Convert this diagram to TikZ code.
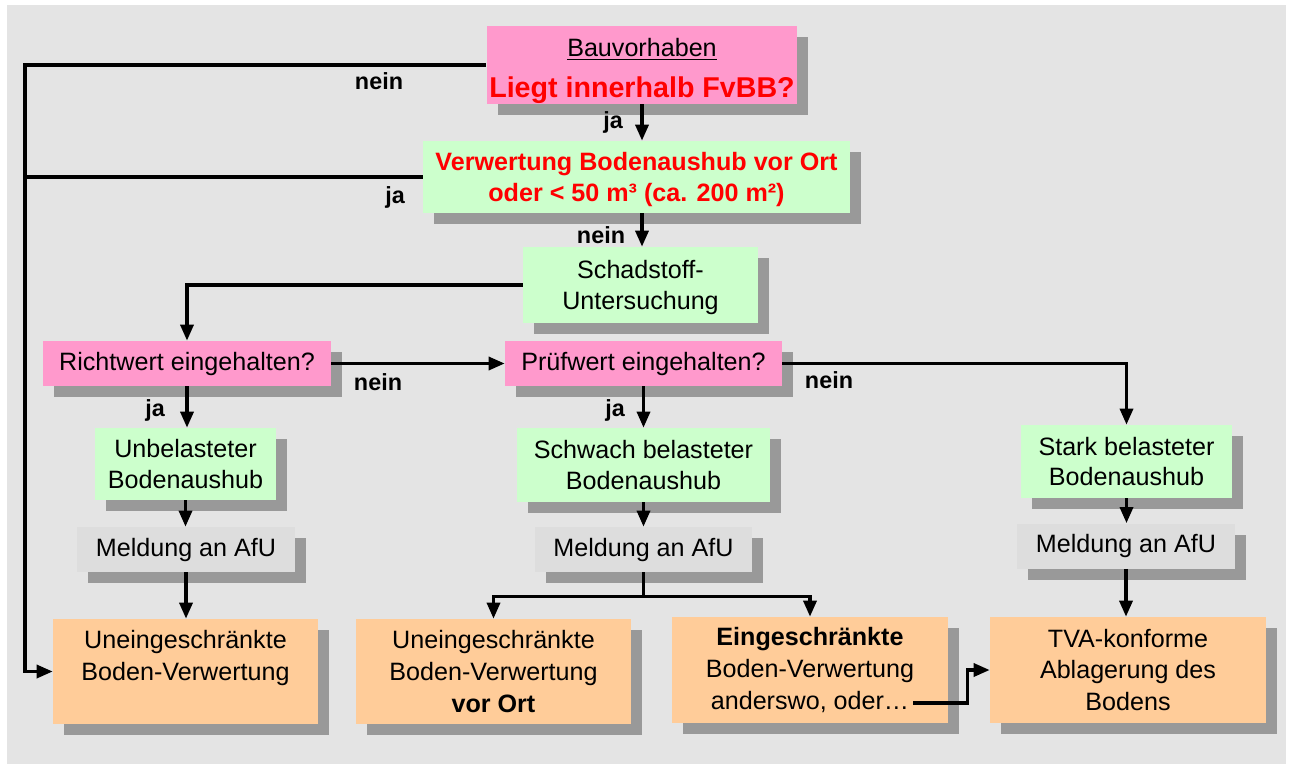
\documentclass[tikz,border=0pt]{standalone}
\usepackage{fontspec}
\setmainfont{Liberation Sans}
\usetikzlibrary{arrows.meta,shadows}
\definecolor{bggrey}{HTML}{E4E4E4}
\definecolor{shadowgrey}{HTML}{999999}
\definecolor{askpink}{HTML}{FF99CC}
\definecolor{soilgreen}{HTML}{CCFFCC}
\definecolor{useorange}{HTML}{FFCC99}
\definecolor{notegrey}{HTML}{DDDDDD}
\tikzset{
  box/.style={inner sep=0pt, align=center, font=\fontsize{14.3}{17.5}\selectfont,
    drop shadow={shadow xshift=0.22cm, shadow yshift=-0.22cm, fill=shadowgrey, opacity=1}},
  askbox/.style={box, fill=askpink},
  soilbox/.style={box, fill=soilgreen},
  notebox/.style={box, fill=notegrey, minimum width=4.36cm, minimum height=0.9cm},
  usebox/.style={box, fill=useorange, font=\fontsize{14.3}{18}\selectfont},
  plain/.style={line width=1.9pt},
  flow/.style={plain, -{Triangle[length=0.32cm,width=0.26cm]}},
  answer/.style={font=\fontsize{13.3}{16}\selectfont\bfseries},
}

\begin{document}
\begin{tikzpicture}[x=0.02cm, y=-0.02cm]
  \useasboundingbox (0,0) rectangle (1292,765);
  \fill[bggrey] (7,5) rectangle (1286,764);
  % Questions
  \node[askbox, minimum width=6.22cm, minimum height=1.52cm] (bau) at (642,65)
    {\rule{0pt}{17.5pt}\underline{Bauvorhaben}\\[6pt]{\fontsize{16.3}{19}\selectfont\bfseries\color{red}Liegt innerhalb FvBB?}};
  \node[soilbox, minimum width=8.54cm, minimum height=1.44cm] (verw) at (636.5,177)
    {\rule{0pt}{13.5pt}\bfseries\color{red}Verwertung Bodenaushub vor Ort\\\bfseries\color{red}oder < 50 m³ (ca. 200 m²)};
  \node[soilbox, minimum width=4.7cm, minimum height=1.52cm] (schad) at (640.5,285)
    {\rule{0pt}{13.5pt}Schadstoff-\\Untersuchung};
  \node[askbox, minimum width=5.76cm, minimum height=0.9cm] (richt) at (187,363.5) {Richtwert eingehalten?};
  \node[askbox, minimum width=5.54cm, minimum height=0.9cm] (pruef) at (643.5,363.5) {Prüfwert eingehalten?};
  % Soil classes
  \node[soilbox, minimum width=3.62cm, minimum height=1.44cm] (unbel) at (185.5,464) {Unbelasteter\\Bodenaushub};
  \node[soilbox, minimum width=5.06cm, minimum height=1.48cm] (schwach) at (643.5,465) {Schwach belasteter\\Bodenaushub};
  \node[soilbox, minimum width=4.22cm, minimum height=1.46cm] (stark) at (1126.5,461.5) {Stark belasteter\\Bodenaushub};
  % Reports
  \node[notebox] (meld1) at (186,549.5) {Meldung an AfU};
  \node[notebox] (meld2) at (643.5,549.5) {Meldung an AfU};
  \node[notebox] (meld3) at (1126,546) {Meldung an AfU};
  % Outcomes
  \node[usebox, minimum width=5.3cm, minimum height=2.1cm] (unein1) at (185.5,671.5)
    {Uneingeschränkte\\Boden-Verwertung\\\rule{0pt}{0pt}};
  \node[usebox, minimum width=5.5cm, minimum height=2.1cm] (unein2) at (493.5,671.5)
    {Uneingeschränkte\\Boden-Verwertung\\\textbf{vor Ort}};
  \node[usebox, minimum width=5.52cm, minimum height=2.12cm] (einge) at (810,670)
    {\textbf{Eingeschränkte}\\Boden-Verwertung\\anderswo, oder…};
  \node[usebox, minimum width=5.52cm, minimum height=2.12cm] (tva) at (1128,670)
    {TVA-konforme\\Ablagerung des\\Bodens};
  % Connectors
  \coordinate (left) at (25,0);
  \coordinate (fork) at ([yshift=-0.48cm]meld2.south);
  \coordinate (oder) at (913,703);
  \draw[flow] (bau.west) -- (bau.west -| left) -- (left |- unein1.west) -- (unein1.west);
  \draw[plain] (verw.west) -- (verw.west -| left);
  \draw[flow] (bau.south) -- (bau.south |- verw.north);
  \draw[flow] (bau.south |- verw.south) -- (bau.south |- schad.north);
  \draw[flow] (schad.west) -| (richt.north);
  \draw[flow] (richt.east) -- (pruef.west);
  \draw[flow] (pruef.east) -| (stark.north);
  \draw[flow] (richt.south) -- (richt.south |- unbel.north);
  \draw[flow] (unbel.south) -- (unbel.south |- meld1.north);
  \draw[flow] (meld1.south) -- (meld1.south |- unein1.north);
  \draw[flow] (pruef.south) -- (pruef.south |- schwach.north);
  \draw[flow] (schwach.south) -- (schwach.south |- meld2.north);
  \draw[plain] (meld2.south) -- (fork);
  \draw[flow] (fork) -| (unein2.north);
  \draw[flow] (fork) -| (einge.north);
  \draw[flow] (stark.south) -- (stark.south |- meld3.north);
  \draw[flow] (meld3.south) -- (meld3.south |- tva.north);
  \draw[flow] (oder) -| ([xshift=-0.44cm]tva.west) -- (tva.west);
  % Answers
  \node[answer] (nein1) at (379,81) {nein};
  \node[answer] (ja1) at (613,122) {ja};
  \node[answer] (ja2) at (395,197) {ja};
  \node[answer] (nein2) at (601,235) {nein};
  \node[answer] (nein3) at (378,382) {nein};
  \node[answer] (ja3) at (155,410) {ja};
  \node[answer] (ja4) at (615,410) {ja};
  \node[answer] (nein4) at (829,380) {nein};
\end{tikzpicture}
\end{document}
